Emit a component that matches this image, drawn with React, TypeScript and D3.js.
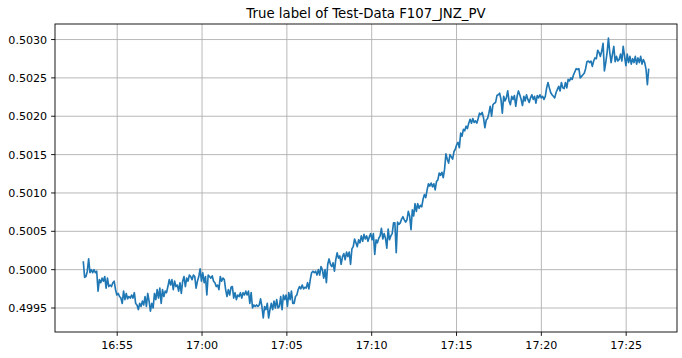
import { useEffect, useRef } from "react"
import * as d3 from "d3"

const chartTitle = "True label of Test-Data F107_JNZ_PV"
const startTime = new Date(2021, 0, 1, 16, 53, 0)
const sampleSeconds = 4.75

// PV readings left to right
const pvValues = [
  0.50011, 0.49990, 0.49991, 0.49998, 0.50014, 0.49996, 0.50000, 0.49996, 0.50000, 0.49996,
  0.49998, 0.49972, 0.49987, 0.49983, 0.49989, 0.49985, 0.49991, 0.49976, 0.49989, 0.49978,
  0.49980, 0.49978, 0.49983, 0.49985, 0.49974, 0.49967, 0.49969, 0.49965, 0.49963, 0.49956,
  0.49972, 0.49961, 0.49969, 0.49962, 0.49965, 0.49963, 0.49967, 0.49963, 0.49970, 0.49956,
  0.49954, 0.49948, 0.49956, 0.49952, 0.49959, 0.49954, 0.49965, 0.49952, 0.49969, 0.49959,
  0.49946, 0.49956, 0.49950, 0.49969, 0.49961, 0.49974, 0.49963, 0.49976, 0.49956, 0.49974,
  0.49965, 0.49972, 0.49970, 0.49978, 0.49987, 0.49980, 0.49987, 0.49974, 0.49985, 0.49978,
  0.49980, 0.49972, 0.49983, 0.49969, 0.49985, 0.49991, 0.49978, 0.49989, 0.49985, 0.49993,
  0.49991, 0.49987, 0.49993, 0.49991, 0.49976, 0.49985, 0.49991, 0.50001, 0.49985, 0.49996,
  0.49983, 0.49991, 0.49967, 0.49993, 0.49991, 0.49989, 0.49992, 0.49985, 0.49983, 0.49978,
  0.49980, 0.49974, 0.49991, 0.49985, 0.49989, 0.49987,
  0.49974, 0.49965, 0.49974, 0.49967, 0.49977, 0.49978, 0.49963, 0.49970, 0.49961, 0.49967,
  0.49965, 0.49970, 0.49963, 0.49970, 0.49967, 0.49972, 0.49967, 0.49972, 0.49956, 0.49970,
  0.49950, 0.49954, 0.49952, 0.49954, 0.49952, 0.49954, 0.49962, 0.49952, 0.49937, 0.49952,
  0.49948, 0.49956, 0.49937, 0.49948, 0.49956, 0.49948, 0.49959, 0.49950, 0.49961, 0.49950,
  0.49952, 0.49965, 0.49948, 0.49967, 0.49961, 0.49967, 0.49952, 0.49970, 0.49961, 0.49972,
  0.49956, 0.49956, 0.49965, 0.49967, 0.49974, 0.49978, 0.49975, 0.49980, 0.49975, 0.49977,
  0.49976, 0.49983, 0.49975, 0.49987, 0.49996, 0.49998, 0.49996, 0.49998, 0.49993, 0.50000,
  0.49993, 0.50004, 0.50000, 0.49989, 0.50000, 0.49983, 0.50007, 0.50014, 0.50007, 0.50004,
  0.50009, 0.49998, 0.50013, 0.50022, 0.50015, 0.50018, 0.50007, 0.50017, 0.50021, 0.50013,
  0.50023, 0.50017, 0.50023, 0.50007, 0.50027, 0.50030, 0.50040, 0.50035, 0.50030, 0.50039,
  0.50035, 0.50044, 0.50037, 0.50046, 0.50040, 0.50044, 0.50037, 0.50043,
  0.50047, 0.50039, 0.50047, 0.50020, 0.50039, 0.50035, 0.50041, 0.50044, 0.50054, 0.50040,
  0.50047, 0.50041, 0.50028, 0.50053, 0.50039, 0.50044, 0.50047, 0.50061, 0.50061, 0.50022,
  0.50062, 0.50059, 0.50061, 0.50066, 0.50069, 0.50065, 0.50062, 0.50065, 0.50076, 0.50070,
  0.50052, 0.50078, 0.50070, 0.50086, 0.50076, 0.50086, 0.50080, 0.50084, 0.50082, 0.50092,
  0.50098, 0.50094, 0.50104, 0.50112, 0.50109, 0.50113, 0.50108, 0.50112, 0.50104, 0.50115,
  0.50117, 0.50126, 0.50123, 0.50127, 0.50120, 0.50131, 0.50151, 0.50144, 0.50139, 0.50150,
  0.50147, 0.50144, 0.50154, 0.50157, 0.50163, 0.50166, 0.50159, 0.50178, 0.50174, 0.50183,
  0.50181, 0.50187, 0.50184, 0.50191, 0.50196, 0.50191, 0.50197, 0.50192, 0.50194, 0.50191,
  0.50197, 0.50204, 0.50202, 0.50205, 0.50198, 0.50185, 0.50195, 0.50197, 0.50204, 0.50213,
  0.50200, 0.50215, 0.50217, 0.50218, 0.50227, 0.50228, 0.50230, 0.50222, 0.50204, 0.50226,
  0.50220, 0.50224, 0.50233, 0.50220,
  0.50215, 0.50226, 0.50222, 0.50227, 0.50213, 0.50226, 0.50233, 0.50228, 0.50222, 0.50214,
  0.50226, 0.50220, 0.50228, 0.50222, 0.50218, 0.50224, 0.50228, 0.50222, 0.50226, 0.50217,
  0.50227, 0.50224, 0.50228, 0.50224, 0.50226, 0.50222, 0.50226, 0.50237, 0.50244, 0.50237,
  0.50231, 0.50228, 0.50226, 0.50224, 0.50231, 0.50235, 0.50239, 0.50233, 0.50244, 0.50237,
  0.50236, 0.50244, 0.50237, 0.50248, 0.50246, 0.50250, 0.50248, 0.50254, 0.50258, 0.50262,
  0.50261, 0.50262, 0.50250, 0.50252, 0.50254, 0.50256, 0.50262, 0.50271, 0.50272, 0.50270,
  0.50272, 0.50265, 0.50272, 0.50276, 0.50275, 0.50286, 0.50283, 0.50278, 0.50285, 0.50295,
  0.50259, 0.50270, 0.50283, 0.50302, 0.50283, 0.50270, 0.50281, 0.50291, 0.50271, 0.50278,
  0.50272, 0.50274, 0.50281, 0.50272, 0.50291, 0.50278, 0.50266, 0.50281, 0.50270, 0.50278,
  0.50268, 0.50275, 0.50270, 0.50278, 0.50268, 0.50276, 0.50270, 0.50278, 0.50268, 0.50274,
  0.50270, 0.50261, 0.50241, 0.50262,
]

export default function App() {
  const svgRef = useRef<SVGSVGElement>(null)

  useEffect(() => {
    if (!svgRef.current) return
    const svg = d3.select(svgRef.current)
    svg.selectAll("*").remove()

    const width = 682
    const height = 358
    const margin = { top: 24, right: 5, bottom: 26, left: 55 }
    const x0 = margin.left
    const x1 = width - margin.right
    const y0 = margin.top
    const y1 = height - margin.bottom
    const font = "DejaVu Sans, sans-serif"

    const data = pvValues.map((v, i) => ({
      t: new Date(startTime.getTime() + i * sampleSeconds * 1000),
      v,
    }))

    // matplotlib-like 5% padding around the data
    const [tMin, tMax] = d3.extent(data, (d) => d.t) as [Date, Date]
    const tPad = (tMax.getTime() - tMin.getTime()) * 0.05
    const [vMin, vMax] = d3.extent(data, (d) => d.v) as [number, number]
    const vPad = (vMax - vMin) * 0.05

    const x = d3
      .scaleTime()
      .domain([new Date(tMin.getTime() - tPad), new Date(tMax.getTime() + tPad)])
      .range([x0, x1])
    const y = d3.scaleLinear().domain([vMin - vPad, vMax + vPad]).range([y1, y0])

    const xTicks = x.ticks(d3.timeMinute.every(5)!)
    const yTicks = y.ticks(10)
    const fmtTime = d3.timeFormat("%H:%M")
    const fmtVal = d3.format(".4f")

    svg.append("rect").attr("width", width).attr("height", height).attr("fill", "#fff")

    // grid
    const grid = svg.append("g").attr("stroke", "#b0b0b0").attr("stroke-width", 0.9)
    grid
      .selectAll("line.gx")
      .data(xTicks)
      .enter()
      .append("line")
      .attr("x1", (d) => x(d))
      .attr("x2", (d) => x(d))
      .attr("y1", y0)
      .attr("y2", y1)
    grid
      .selectAll("line.gy")
      .data(yTicks)
      .enter()
      .append("line")
      .attr("x1", x0)
      .attr("x2", x1)
      .attr("y1", (d) => y(d))
      .attr("y2", (d) => y(d))

    // series
    const line = d3
      .line<{ t: Date; v: number }>()
      .x((d) => x(d.t))
      .y((d) => y(d.v))
    svg
      .append("path")
      .datum(data)
      .attr("d", line)
      .attr("fill", "none")
      .attr("stroke", "#1f77b4")
      .attr("stroke-width", 1.65)
      .attr("stroke-linejoin", "round")

    // frame
    svg
      .append("rect")
      .attr("x", x0)
      .attr("y", y0)
      .attr("width", x1 - x0)
      .attr("height", y1 - y0)
      .attr("fill", "none")
      .attr("stroke", "#000")
      .attr("stroke-width", 0.9)

    // x ticks
    const xt = svg.append("g").selectAll("g").data(xTicks).enter().append("g")
    xt.append("line")
      .attr("x1", (d) => x(d))
      .attr("x2", (d) => x(d))
      .attr("y1", y1)
      .attr("y2", y1 + 3.9)
      .attr("stroke", "#000")
      .attr("stroke-width", 0.9)
    xt.append("text")
      .attr("x", (d) => x(d))
      .attr("y", y1 + 16.5)
      .attr("text-anchor", "middle")
      .attr("font-family", font)
      .attr("font-size", 11.1)
      .attr("fill", "#000")
      .text((d) => fmtTime(d))

    // y ticks
    const yt = svg.append("g").selectAll("g").data(yTicks).enter().append("g")
    yt.append("line")
      .attr("x1", x0 - 3.9)
      .attr("x2", x0)
      .attr("y1", (d) => y(d))
      .attr("y2", (d) => y(d))
      .attr("stroke", "#000")
      .attr("stroke-width", 0.9)
    yt.append("text")
      .attr("x", x0 - 7.8)
      .attr("y", (d) => y(d))
      .attr("dy", "0.36em")
      .attr("text-anchor", "end")
      .attr("font-family", font)
      .attr("font-size", 11.1)
      .attr("fill", "#000")
      .text((d) => fmtVal(d))

    // title
    svg
      .append("text")
      .attr("x", (x0 + x1) / 2)
      .attr("y", y0 - 6)
      .attr("text-anchor", "middle")
      .attr("font-family", font)
      .attr("font-size", 13.3)
      .attr("fill", "#000")
      .text(chartTitle)
  }, [])

  return (
    <svg
      ref={svgRef}
      width={682}
      height={358}
      style={{ position: "absolute", left: 0, top: 0, display: "block" }}
    />
  )
}
